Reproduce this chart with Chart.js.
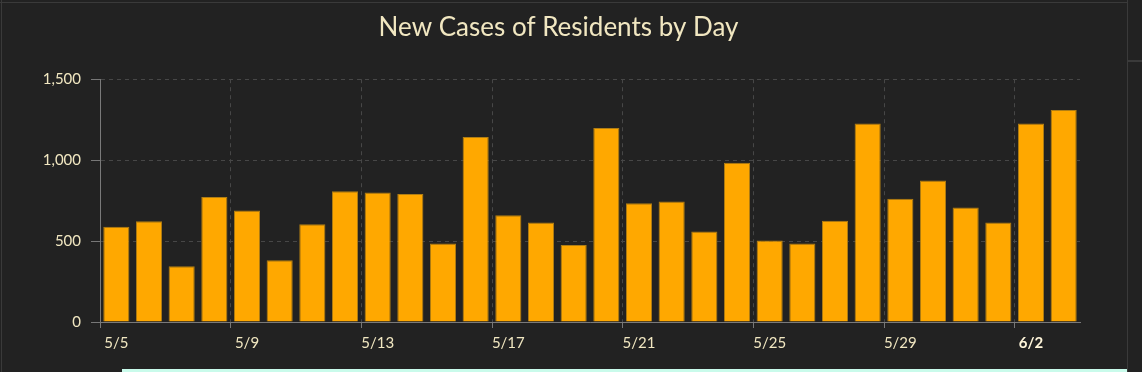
<!DOCTYPE html>
<html>
<head>
<meta charset="utf-8">
<script src="https://cdn.jsdelivr.net/npm/chart.js@4"></script>
<style>
  html, body { margin: 0; padding: 0; background: #222222; }
  body { width: 1142px; height: 372px; position: relative; overflow: hidden; }
  #wrap { position: absolute; left: 0; top: 0; width: 1142px; height: 372px; }
  .edge { position: absolute; background: #3a3a3a; }
</style>
</head>
<body>
<!-- dashboard frame bits around the chart panel -->
<div class="edge" style="left:0;top:2px;width:1127px;height:1px;"></div>
<div class="edge" style="left:1px;top:0;width:1px;height:372px;"></div>
<div class="edge" style="left:1127px;top:0;width:1px;height:372px;"></div>
<div class="edge" style="left:1127px;top:60px;width:15px;height:2px;"></div>
<div style="position:absolute;left:122px;top:369px;width:1005px;height:3px;background:#c9fbeb;"></div>
<div id="wrap"><canvas id="casesChart"></canvas></div>
<script>
// days shown on the x axis
const days = [
  '5/5', '5/6', '5/7', '5/8', '5/9', '5/10', '5/11', '5/12', '5/13', '5/14',
  '5/15', '5/16', '5/17', '5/18', '5/19', '5/20', '5/21', '5/22', '5/23', '5/24',
  '5/25', '5/26', '5/27', '5/28', '5/29', '5/30', '5/31', '6/1', '6/2', '6/3'
];
// new resident cases per day
const newCases = [
  588, 623, 345, 773, 689, 382, 604, 808, 800, 791,
  485, 1143, 660, 615, 475, 1198, 734, 744, 559, 984,
  503, 485, 625, 1227, 762, 874, 707, 615, 1227, 1309
];
const yTicks = [0, 500, 1000, 1500];
const labelEvery = 4;
const boldDay = '6/2';

const cream = '#f1e7c1';
const shown = i => i % labelEvery === 0;

new Chart(document.getElementById('casesChart'), {
  type: 'bar',
  data: {
    labels: days,
    datasets: [{
      label: 'New Cases',
      data: newCases,
      backgroundColor: '#ffa800',
      borderColor: '#b07e14',
      borderWidth: 1,
      barPercentage: 0.8,
      categoryPercentage: 1.0
    }]
  },
  options: {
    responsive: true,
    maintainAspectRatio: false,
    animation: false,
    // left padding nudges the title toward the panel centre
    layout: { padding: { left: 37, right: 62, top: 6, bottom: 0 } },
    plugins: {
      legend: { display: false },
      tooltip: { enabled: false },
      title: {
        display: true,
        text: 'New Cases of Residents by Day',
        color: cream,
        font: { family: 'Lato', size: 26, weight: 'normal' },
        padding: { top: 6, bottom: 36 }
      }
    },
    scales: {
      x: {
        offset: true,
        afterFit: s => { s.height = 50; },
        grid: {
          offset: true,
          color: c => shown(c.index) ? '#474747' : 'transparent',
          tickColor: c => shown(c.index) ? '#777777' : 'transparent',
          tickBorderDash: [],
          tickLength: 6,
          lineWidth: 1
        },
        border: { color: '#7a7a7a', width: 1, dash: [4, 4] },
        ticks: {
          autoSkip: false,
          maxRotation: 0,
          padding: 6,
          callback: (v, i) => shown(i) ? days[i] : '',
          color: c => days[c.index] === boldDay ? '#fff6da' : cream,
          font: c => ({
            family: 'Lato',
            size: 15,
            weight: days[c.index] === boldDay ? 'bold' : 'normal'
          })
        }
      },
      y: {
        min: 0,
        max: 1500,
        afterFit: s => { s.width = 63; },
        afterBuildTicks: s => { s.ticks = yTicks.map(v => ({ value: v })); },
        grid: {
          color: '#474747',
          tickColor: '#777777',
          tickBorderDash: [],
          tickLength: 9
        },
        border: { color: '#7a7a7a', width: 1, dash: [4, 4] },
        ticks: {
          padding: 10,
          color: cream,
          font: { family: 'Lato', size: 15 },
          callback: v => v.toLocaleString('en-US')
        }
      }
    }
  }
});
</script>
</body>
</html>
